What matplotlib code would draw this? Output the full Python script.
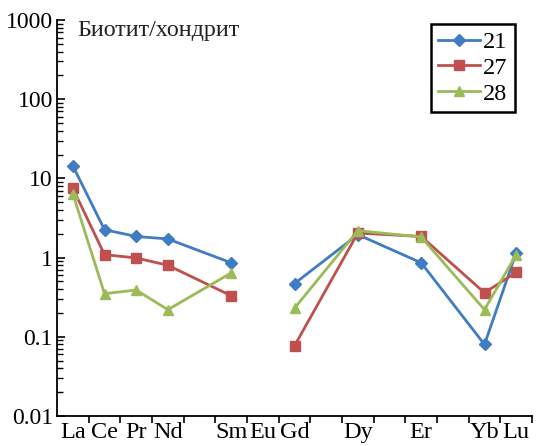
import numpy as np
import matplotlib
matplotlib.use("Agg")
from matplotlib import pyplot as plt
from matplotlib.ticker import LogLocator, NullFormatter, FixedLocator

plt.rcParams['font.family'] = ['Liberation Serif', 'DejaVu Serif']

# REE categories (empty labels = elements not analysed)
elements = ['La', 'Ce', 'Pr', 'Nd', '', 'Sm', 'Eu', 'Gd', '', 'Dy', '', 'Er', '', 'Yb', 'Lu']
nan = np.nan
s21 = [14.4, 2.25, 1.85, 1.72, nan, 0.86, nan, 0.47, nan, 1.95, nan, 0.86, nan, 0.08, 1.15]
s27 = [7.5, 1.09, 0.99, 0.80, nan, 0.33, nan, 0.077, nan, 2.04, nan, 1.85, nan, 0.36, 0.65]
s28 = [6.4, 0.35, 0.39, 0.22, nan, 0.64, nan, 0.23, nan, 2.19, nan, 1.82, nan, 0.22, 1.09]

series = [('21', s21, '#3F7CC4', 'D', 6),
          ('27', s27, '#C0504D', 's', 7),
          ('28', s28, '#9BBB59', '^', 7.5)]

fig = plt.figure(figsize=(5.37, 4.46), dpi=100)
ax = fig.add_axes([57/537, 30/446, 475/537, 396/446])

x = np.arange(len(elements))
# Eu breaks the line: draw light and heavy REE groups separately
groups = [range(0, 6), range(7, 15)]
for name, vals, col, mk, ms in series:
    v = np.array(vals)
    for k, g in enumerate(groups):
        idx = np.array([i for i in g if not np.isnan(v[i])])
        ax.plot(x[idx], v[idx], color=col, marker=mk, markersize=ms, lw=2.0,
                label=name if k == 0 else None)

ax.set_yscale('log')
ax.set_ylim(0.01, 1000)
ax.set_xlim(-0.5, len(elements) - 0.5)
ax.set_xticks(x)
ax.set_xticklabels(elements, fontsize=17.5)
ax.tick_params(axis='x', which='major', length=0, pad=4)
ax.xaxis.set_minor_locator(FixedLocator(np.arange(0.5, len(elements), 1.0)))
ax.tick_params(axis='x', which='minor', direction='out', length=5, width=1.2)

ax.yaxis.set_minor_locator(LogLocator(base=10, subs=np.arange(2, 10), numticks=20))
ax.yaxis.set_minor_formatter(NullFormatter())
ax.set_yticks([0.01, 0.1, 1, 10, 100, 1000])
ax.set_yticklabels(['0.01', '0.1', '1', '10', '100', '1000'], fontsize=17)
ax.tick_params(axis='y', which='major', direction='in', length=6, width=1.2, pad=3)
ax.tick_params(axis='y', which='minor', direction='in', length=4, width=1.0)

for side in ['top', 'right']:
    ax.spines[side].set_visible(False)
for side in ['left', 'bottom']:
    ax.spines[side].set_linewidth(1.3)

ax.text(0.042, 1.0, 'Биотит/хондрит', transform=ax.transAxes, fontsize=17.3,
        va='top', ha='left', color='#222222')

leg = ax.legend(loc='upper right', bbox_to_anchor=(515/537, 1 - 24/446),
                bbox_transform=fig.transFigure, borderaxespad=0, fontsize=17.5,
                fancybox=False, edgecolor='black', framealpha=1,
                handlelength=1.7, handletextpad=0.15, labelspacing=0.15,
                borderpad=0.3)
leg.get_frame().set_linewidth(1.8)

fig.savefig('out.png', dpi=100)
